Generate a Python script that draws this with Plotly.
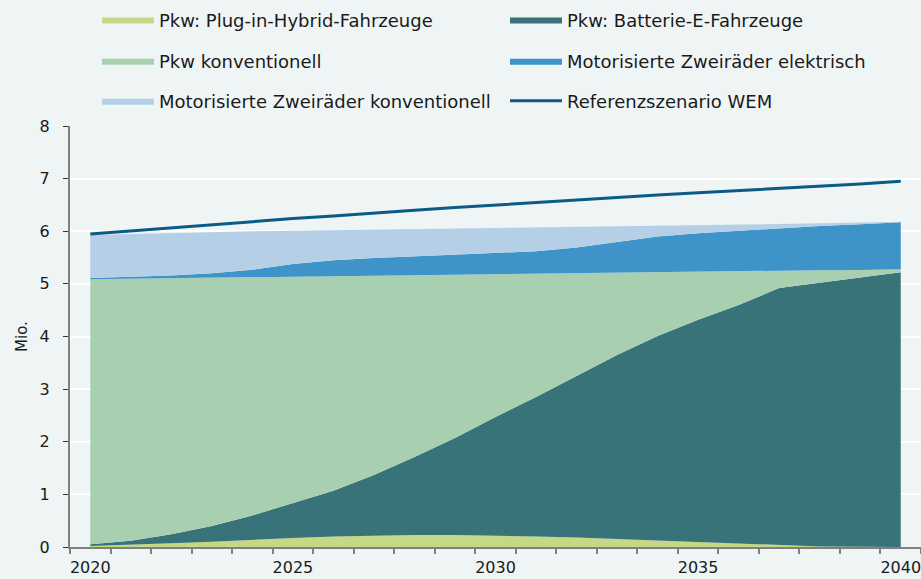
import plotly.graph_objects as go

# Jahre und Bestand in Mio.
years = [2020, 2021, 2022, 2023, 2024, 2025, 2026, 2027, 2028, 2029, 2030,
         2031, 2032, 2033, 2034, 2035, 2036, 2037, 2038, 2039, 2040]

pkw_phev = [0.02, 0.04, 0.07, 0.10, 0.14, 0.17, 0.20, 0.22, 0.23, 0.23, 0.22,
            0.20, 0.18, 0.15, 0.12, 0.09, 0.06, 0.03, 0.01, 0.005, 0.0]
pkw_bev = [0.03, 0.08, 0.17, 0.30, 0.46, 0.66, 0.87, 1.15, 1.48, 1.84, 2.25,
           2.65, 3.07, 3.50, 3.89, 4.23, 4.54, 4.89, 5.01, 5.12, 5.22]
pkw_konv = [5.04, 4.98, 4.87, 4.72, 4.53, 4.31, 4.08, 3.79, 3.46, 3.11, 2.72,
            2.35, 1.96, 1.56, 1.21, 0.91, 0.64, 0.33, 0.24, 0.14, 0.06]
zweirad_elektr = [0.02, 0.03, 0.05, 0.08, 0.14, 0.24, 0.30, 0.33, 0.35, 0.37, 0.39,
                  0.42, 0.48, 0.59, 0.68, 0.73, 0.77, 0.81, 0.84, 0.87, 0.89]
zweirad_konv = [0.82, 0.82, 0.81, 0.78, 0.73, 0.63, 0.57, 0.54, 0.52, 0.50, 0.48,
                0.45, 0.39, 0.29, 0.20, 0.15, 0.11, 0.07, 0.05, 0.03, 0.01]
wem = [5.95, 6.01, 6.07, 6.13, 6.18, 6.24, 6.29, 6.35, 6.40, 6.45, 6.50,
       6.55, 6.60, 6.65, 6.69, 6.73, 6.77, 6.81, 6.85, 6.90, 6.95]

x_ticks = [2020, 2025, 2030, 2035, 2040]

bg = "#EFF5F5"
font = "DejaVu Sans"

areas = [
    ("Pkw: Plug-in-Hybrid-Fahrzeuge", pkw_phev, "#C5D886", "legend"),
    ("Pkw: Batterie-E-Fahrzeuge", pkw_bev, "#38737A", "legend"),
    ("Pkw konventionell", pkw_konv, "#A8D0B0", "legend2"),
    ("Motorisierte Zweiräder elektrisch", zweirad_elektr, "#3E94C9", "legend2"),
    ("Motorisierte Zweiräder konventionell", zweirad_konv, "#B5D0E6", "legend3"),
]

fig = go.Figure()
for name, vals, color, leg in areas:
    fig.add_trace(go.Scatter(
        x=years, y=vals, name=name, mode="lines",
        stackgroup="bestand", line=dict(width=0, color=color),
        fillcolor=color, legend=leg,
    ))

fig.add_trace(go.Scatter(
    x=years, y=wem, name="Referenzszenario WEM", mode="lines",
    line=dict(color="#0B5A87", width=3), legend="legend3",
))

leg_common = dict(
    orientation="h", xanchor="left", yanchor="middle", x=0.0317,
    bgcolor="rgba(0,0,0,0)", traceorder="normal",
    entrywidth=341, itemwidth=52,
    font=dict(family=font, size=18, color="#1a1a1a"),
)

fig.update_layout(
    width=921, height=579,
    paper_bgcolor=bg, plot_bgcolor=bg,
    margin=dict(l=70, r=0, t=126, b=32, autoexpand=False),
    font=dict(family=font, size=16, color="#1a1a1a"),
    showlegend=True,
    legend=dict(leg_common, y=1.252),
    legend2=dict(leg_common, y=1.154),
    legend3=dict(leg_common, y=1.059),
    xaxis=dict(
        range=[2019.5, 2040.5], tickvals=x_ticks,
        ticks="outside", ticklen=5, tickcolor="rgba(0,0,0,0)",
        ticklabeloverflow="allow",
        showgrid=False, zeroline=False,
        showline=True, linecolor="#808080", linewidth=2,
        minor=dict(ticks="outside", tick0=2019.5, dtick=1, ticklen=5,
                   tickcolor="#808080", tickwidth=2, showgrid=False),
        tickfont=dict(size=16),
    ),
    yaxis=dict(
        range=[0, 8], dtick=1,
        ticks="outside", ticklen=5, tickcolor="#333333",
        ticklabelstandoff=10,
        showgrid=True, gridcolor="white", gridwidth=2,
        zeroline=False, showline=True, linecolor="#808080", linewidth=2,
        title=dict(text="Mio.", font=dict(size=15), standoff=8),
        tickfont=dict(size=16),
    ),
)

# drop the default 8px body margin so the figure fills the window
fig.write_html(
    "out.html",
    config={"displayModeBar": False},
    post_script="document.body.style.margin='0';"
                "document.body.style.background='" + bg + "';",
)
